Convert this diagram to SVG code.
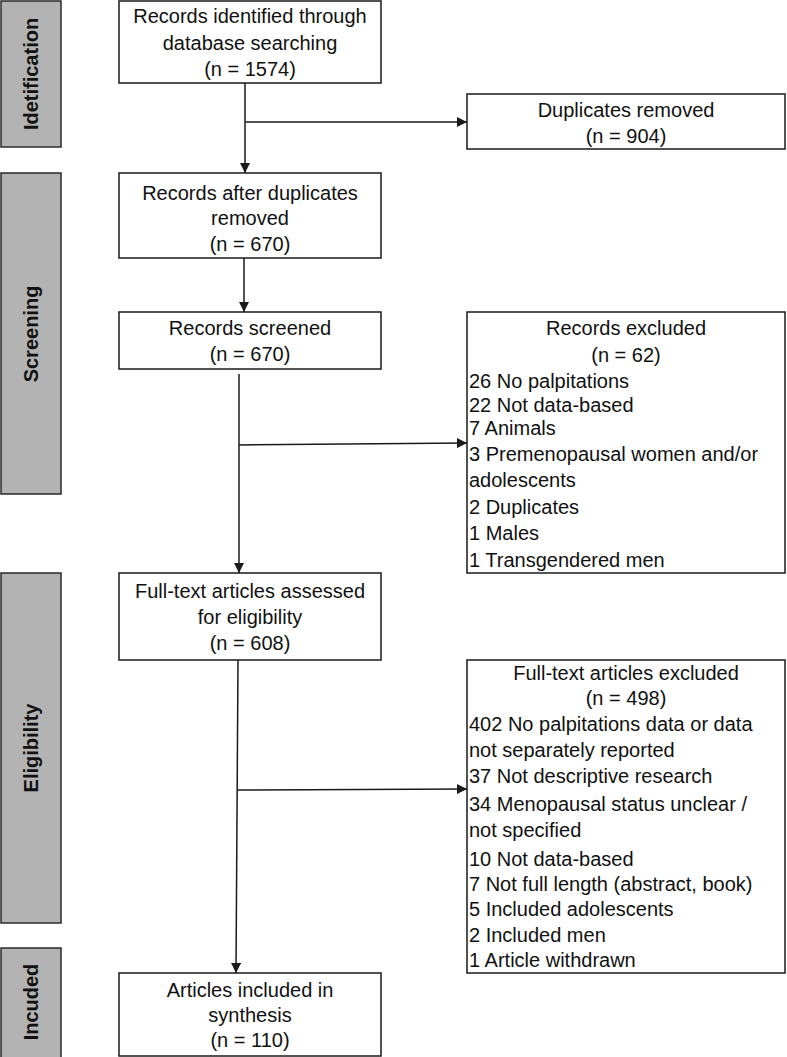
<svg xmlns="http://www.w3.org/2000/svg" width="787" height="1057" viewBox="0 0 787 1057">
<style>
.bar{fill:#b3b3b3;stroke:#2a2a2a;stroke-width:1.5}
.box{fill:#fff;stroke:#1a1a1a;stroke-width:1.5}
.t{font-family:"Liberation Sans",Arial,sans-serif;font-size:20px;fill:#111}
.c{text-anchor:middle}
.side{font-family:"Liberation Sans",Arial,sans-serif;font-size:20px;font-weight:bold;fill:#111;text-anchor:middle}
.ln{stroke:#1a1a1a;stroke-width:1.5;fill:none}
</style>
<defs>
<marker id="ah" viewBox="0 0 10 10" refX="10" refY="5" markerWidth="10" markerHeight="10" markerUnits="userSpaceOnUse" orient="auto">
<path d="M0,0 L10,5 L0,10 Z" fill="#1a1a1a"/>
</marker>
</defs>
<rect width="787" height="1057" fill="#fff"/>
<g id="phases">
<g id="phase-identification"><rect class="bar" x="1" y="1" width="60" height="146"/><text class="side" transform="translate(38,74) rotate(-90)">Idetification</text></g>
<g id="phase-screening"><rect class="bar" x="1" y="173" width="60" height="321"/><text class="side" transform="translate(38,334) rotate(-90)">Screening</text></g>
<g id="phase-eligibility"><rect class="bar" x="1" y="573" width="60" height="350"/><text class="side" transform="translate(38,748) rotate(-90)">Eligibility</text></g>
<g id="phase-included"><rect class="bar" x="1" y="948" width="60" height="112"/><text class="side" transform="translate(38,1002) rotate(-90)">Incuded</text></g>
</g>
<g id="connectors">
<line class="ln" x1="245" y1="83" x2="245" y2="173" marker-end="url(#ah)"/>
<line class="ln" x1="245" y1="122" x2="467" y2="122" marker-end="url(#ah)"/>
<line class="ln" x1="244" y1="258" x2="244" y2="312" marker-end="url(#ah)"/>
<line class="ln" x1="239" y1="374" x2="239" y2="573" marker-end="url(#ah)"/>
<line class="ln" x1="239" y1="445" x2="467" y2="443" marker-end="url(#ah)"/>
<line class="ln" x1="238" y1="660" x2="236" y2="973" marker-end="url(#ah)"/>
<line class="ln" x1="238" y1="790" x2="467" y2="789" marker-end="url(#ah)"/>
</g>
<g id="n1"><rect class="box" x="119" y="1" width="262" height="82"/>
<text class="t c" x="250" y="23">Records identified through</text>
<text class="t c" x="250" y="50">database searching</text>
<text class="t c" x="250" y="76">(n = 1574)</text></g>
<g id="n2"><rect class="box" x="467" y="94" width="318" height="55"/>
<text class="t c" x="626" y="117">Duplicates removed</text>
<text class="t c" x="626" y="143">(n = 904)</text></g>
<g id="n3"><rect class="box" x="119" y="173" width="262" height="85"/>
<text class="t c" x="250" y="200">Records after duplicates</text>
<text class="t c" x="250" y="225">removed</text>
<text class="t c" x="250" y="251">(n = 670)</text></g>
<g id="n4"><rect class="box" x="119" y="312" width="262" height="57"/>
<text class="t c" x="250" y="335">Records screened</text>
<text class="t c" x="250" y="361">(n = 670)</text></g>
<g id="n5"><rect class="box" x="467" y="312" width="318" height="261"/>
<text class="t c" x="626" y="335">Records excluded</text>
<text class="t c" x="626" y="362">(n = 62)</text>
<text class="t" x="469" y="388">26 No palpitations</text>
<text class="t" x="469" y="412">22 Not data-based</text>
<text class="t" x="469" y="435">7 Animals</text>
<text class="t" x="469" y="461">3 Premenopausal women and/or</text>
<text class="t" x="469" y="487">adolescents</text>
<text class="t" x="469" y="514">2 Duplicates</text>
<text class="t" x="469" y="540">1 Males</text>
<text class="t" x="469" y="567">1 Transgendered men</text></g>
<g id="n6"><rect class="box" x="119" y="573" width="262" height="87"/>
<text class="t c" x="250" y="598">Full-text articles assessed</text>
<text class="t c" x="250" y="624">for eligibility</text>
<text class="t c" x="250" y="650">(n = 608)</text></g>
<g id="n7"><rect class="box" x="467" y="660" width="318" height="313"/>
<text class="t c" x="626" y="680">Full-text articles excluded</text>
<text class="t c" x="626" y="705">(n = 498)</text>
<text class="t" x="469" y="731">402 No palpitations data or data</text>
<text class="t" x="469" y="757">not separately reported</text>
<text class="t" x="469" y="783">37 Not descriptive research</text>
<text class="t" x="469" y="811">34 Menopausal status unclear /</text>
<text class="t" x="469" y="837">not specified</text>
<text class="t" x="469" y="866">10 Not data-based</text>
<text class="t" x="469" y="891">7 Not full length (abstract, book)</text>
<text class="t" x="469" y="916">5 Included adolescents</text>
<text class="t" x="469" y="942">2 Included men</text>
<text class="t" x="469" y="967">1 Article withdrawn</text></g>
<g id="n8"><rect class="box" x="119" y="973" width="262" height="83"/>
<text class="t c" x="250" y="997">Articles included in</text>
<text class="t c" x="250" y="1022">synthesis</text>
<text class="t c" x="250" y="1047">(n = 110)</text></g>
</svg>
